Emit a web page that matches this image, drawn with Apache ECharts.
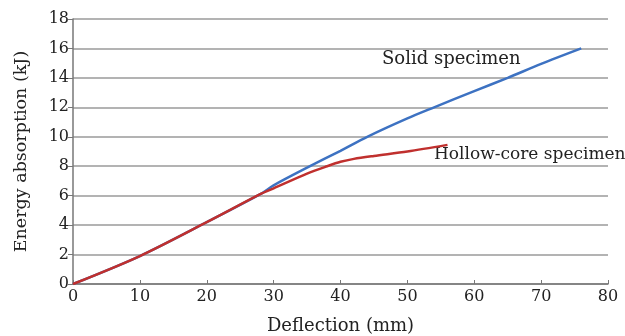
<!DOCTYPE html>
<html>
<head>
<meta charset="utf-8">
<script src="https://cdn.jsdelivr.net/npm/echarts@6/dist/echarts.min.js"></script>
<style>
html,body{margin:0;padding:0;background:#fff;}
#chart{width:625px;height:336px;}
</style>
</head>
<body>
<div id="chart"></div>
<script>
// deflection (mm) / energy (kJ)
var solidX = [0, 10, 20, 28, 30, 35, 40, 44, 50, 54, 60, 65, 70, 76];
var solidY = [0, 1.9, 4.2, 6.1, 6.7, 7.9, 9.05, 10.0, 11.25, 12.0, 13.1, 14.0, 14.95, 16.0];
var hollowX = [0, 10, 20, 28, 30, 35, 38, 40, 42, 45, 50, 56];
var hollowY = [0, 1.9, 4.2, 6.1, 6.5, 7.5, 8.0, 8.3, 8.5, 8.7, 9.0, 9.45];
var xTicks = [0, 10, 20, 30, 40, 50, 60, 70, 80];
var yTicks = [0, 2, 4, 6, 8, 10, 12, 14, 16, 18];

function pairs(xs, ys) {
	var r = [];
	for (var i = 0; i < xs.length; i++) r.push([xs[i], ys[i]]);
	return r;
}

var font = 'DejaVu Serif';
var chart = echarts.init(document.getElementById('chart'));
var option = {
	animation: false,
	grid: { left: 73, right: 17, top: 19, bottom: 52, outerBoundsMode: 'none' },
	xAxis: {
		type: 'value',
		min: xTicks[0], max: xTicks[xTicks.length - 1], interval: 10,
		name: 'Deflection (mm)', nameLocation: 'middle', nameGap: 33,
		nameTextStyle: { fontFamily: font, fontSize: 18, color: '#222' },
		axisLine: { lineStyle: { color: '#777', width: 1.5 } },
		axisTick: { inside: true, length: 4, lineStyle: { color: '#777' } },
		axisLabel: { fontFamily: font, fontSize: 16, color: '#222', margin: 5 },
		splitLine: { show: false }
	},
	yAxis: {
		type: 'value',
		min: yTicks[0], max: yTicks[yTicks.length - 1], interval: 2,
		name: 'Energy absorption (kJ)', nameLocation: 'middle', nameGap: 43,
		nameTextStyle: { fontFamily: font, fontSize: 17.5, color: '#222' },
		axisLine: { show: true, lineStyle: { color: '#777', width: 1.5 } },
		axisTick: { show: true, length: 5, lineStyle: { color: '#777' } },
		axisLabel: { fontFamily: font, fontSize: 16, color: '#222', margin: 4 },
		splitLine: { lineStyle: { color: '#9a9a9a', width: 1.5 } }
	},
	graphic: [
		{ type: 'text', left: 382, top: 50, style: { text: 'Solid specimen', fontFamily: font, fontSize: 18, fill: '#222' } },
		{ type: 'text', left: 434, top: 146, style: { text: 'Hollow-core specimen', fontFamily: font, fontSize: 17, fill: '#222' } }
	],
	series: [
		{
			name: 'Solid specimen', type: 'line', smooth: 0.3, symbol: 'none',
			lineStyle: { color: '#3d72c2', width: 2.5 },
			data: pairs(solidX, solidY)
		},
		{
			name: 'Hollow-core specimen', type: 'line', smooth: 0.3, symbol: 'none',
			lineStyle: { color: '#c0302e', width: 2.5 },
			data: pairs(hollowX, hollowY)
		}
	]
};
chart.setOption(option);
</script>
</body>
</html>
